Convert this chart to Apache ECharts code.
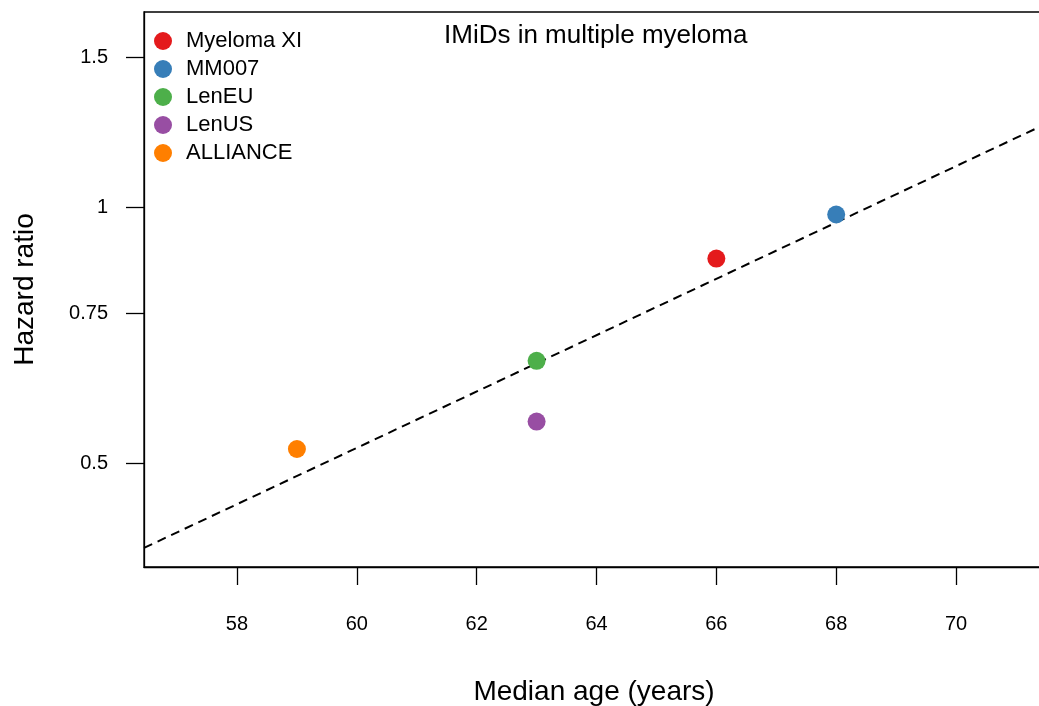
<!DOCTYPE html>
<html>
<head>
<meta charset="utf-8">
<script src="https://cdn.jsdelivr.net/npm/echarts@6/dist/echarts.min.js"></script>
<style>
  html, body { margin: 0; padding: 0; background: #fff; }
  #chart { width: 1039px; height: 706px; }
</style>
</head>
<body>
<div id="chart"></div>
<script>
// studies, one point each
const studies = ['Myeloma XI', 'MM007', 'LenEU', 'LenUS', 'ALLIANCE']
const medianAge = [66, 68, 63, 63, 59]
const hazardRatio = [0.87, 0.98, 0.66, 0.56, 0.52]
const colors = ['#E41A1C', '#377EB8', '#4DAF4A', '#984EA3', '#FF7F00']

// fitted line (log HR vs age), ends at the plot edges
const fitAge = [56.448, 71.468]
const fitHR = [0.398, 1.249]

const xTicks = [58, 60, 62, 64, 66, 68, 70]
const yTicks = [0.5, 0.75, 1, 1.5]

const font = 'Liberation Sans, Arial, sans-serif'

let chart = echarts.init(document.getElementById('chart'))

let series = [
  {
    type: 'line',
    data: fitAge.map((a, i) => [a, fitHR[i]]),
    showSymbol: false,
    silent: true,
    z: 1,
    lineStyle: { color: '#000', width: 2, type: [9, 6] }
  }
]
studies.forEach((name, i) => {
  series.push({
    name: name,
    type: 'scatter',
    data: [[medianAge[i], hazardRatio[i]]],
    symbol: 'circle',
    symbolSize: 18,
    z: 3,
    itemStyle: { color: colors[i], opacity: 1 }
  })
})

chart.setOption({
  animation: false,
  title: {
    text: 'IMiDs in multiple myeloma',
    left: 439,
    top: 18,
    textStyle: { fontFamily: font, fontSize: 26, fontWeight: 'normal', color: '#000' }
  },
  legend: {
    data: studies,
    orient: 'vertical',
    left: 149,
    top: 25,
    itemWidth: 18,
    itemHeight: 18,
    itemGap: 6,
    icon: 'circle',
    textStyle: { fontFamily: font, fontSize: 22, color: '#000', padding: [0, 0, 0, 9] }
  },
  grid: {
    left: 144,
    right: -5,
    top: 12,
    bottom: 706 - 567,
    outerBoundsMode: 'none',
    show: true,
    borderColor: '#000',
    borderWidth: 1.3
  },
  xAxis: {
    type: 'value',
    min: fitAge[0],
    max: fitAge[1],
    name: 'Median age (years)',
    nameLocation: 'middle',
    nameGap: 111,
    nameTextStyle: { fontFamily: font, fontSize: 28, color: '#000' },
    splitLine: { show: false },
    axisLine: { lineStyle: { color: '#000', width: 1.3 } },
    axisTick: { length: 18, lineStyle: { color: '#000', width: 1.3 }, customValues: xTicks },
    axisLabel: { margin: 47, fontFamily: font, fontSize: 20, color: '#000', customValues: xTicks }
  },
  yAxis: {
    type: 'log',
    logBase: Math.E,
    min: 0.378,
    max: 1.694,
    name: 'Hazard ratio',
    nameLocation: 'middle',
    nameGap: 105,
    nameTextStyle: { fontFamily: font, fontSize: 28, color: '#000' },
    splitLine: { show: false },
    axisLine: { lineStyle: { color: '#000', width: 1.3 } },
    axisTick: { length: 18, lineStyle: { color: '#000', width: 1.3 }, customValues: yTicks },
    axisLabel: {
      margin: 36,
      fontFamily: font,
      fontSize: 20,
      color: '#000',
      customValues: yTicks,
      formatter: v => String(+v.toFixed(2))
    }
  },
  series: series
})
</script>
</body>
</html>
